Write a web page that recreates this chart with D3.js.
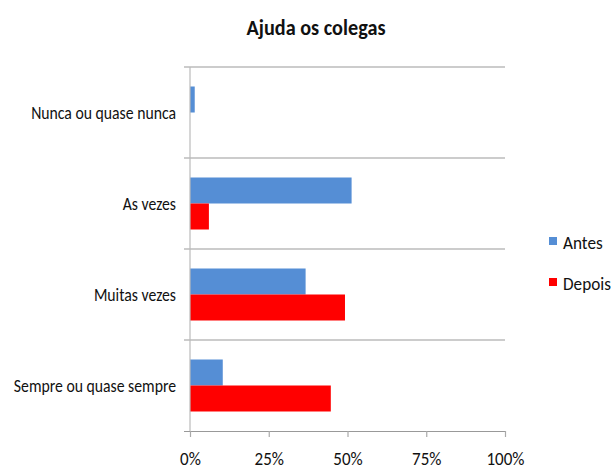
<!DOCTYPE html>
<html><head><meta charset="utf-8">
<script src="https://cdn.jsdelivr.net/npm/d3@7"></script>
<style>body{margin:0;background:#fff}svg{display:block}text{font-family:Carlito,'Liberation Sans Narrow','DejaVu Sans Condensed',sans-serif}</style>
</head><body><svg id="c" width="614" height="469"></svg>
<script>
const categories = ["Nunca ou quase nunca","As vezes","Muitas vezes","Sempre ou quase sempre"];
const seriesNames = ["Antes","Depois"];
const antes = [1.5, 51.3, 36.7, 10.4];
const depois = [0, 6.0, 49.2, 44.7];
const tickValues = [0,25,50,75,100];
const colors = ["#558ED5","#FF0000"];

(function(){
const svg = d3.select("#c");
const pL = 190, pR = 505, pT = 67, pB = 431;
const x = d3.scaleLinear().domain([0,100]).range([pL,pR]);
const y = d3.scaleBand().domain(categories).range([pT,pB]).padding(0);
const inner = d3.scaleBand().domain(seriesNames).range([0,y.bandwidth()]).paddingOuter(0.75).paddingInner(0);

svg.append("text").attr("transform","translate(316,35) scale(0.92,1)").attr("text-anchor","middle")
  .attr("font-size",22).attr("font-weight","bold").attr("fill","#111").text("Ajuda  os colegas");

const bounds = categories.map(c=>y(c));
svg.append("g").selectAll("line").data(bounds).join("line")
  .attr("x1",pL-6).attr("x2",pR).attr("y1",d=>d).attr("y2",d=>d)
  .attr("stroke","#999").attr("stroke-width",1.2);

const data = [antes, depois];
seriesNames.forEach((s,si)=>{
  svg.append("g").selectAll("rect").data(categories).join("rect")
    .attr("x",x(0)).attr("y",c=>y(c)+inner(s))
    .attr("width",(c,i)=>x(data[si][i])-x(0)).attr("height",inner.bandwidth())
    .attr("fill",colors[si]);
});

svg.append("line").attr("x1",pL).attr("x2",pL).attr("y1",pT).attr("y2",pB)
  .attr("stroke","#bbb").attr("stroke-width",1.2);

const xa = svg.append("g").attr("transform",`translate(0,${pB})`)
  .call(d3.axisBottom(x).tickValues(tickValues).tickFormat(d=>d+"%").tickSize(6).tickPadding(14));
xa.select(".domain").attr("stroke","#999").attr("stroke-width",1.2).attr("d",`M${pL-6},0.5H${pR}`);
xa.selectAll(".tick line").attr("stroke","#aaa").attr("stroke-width",1.2);
xa.selectAll(".tick text").remove();
xa.selectAll(".tick").append("text")
  .attr("transform","translate(0,33.5) scale(0.92,1)").attr("text-anchor","middle")
  .attr("font-size",18.5).attr("fill","#111").text(d=>d+"%");

svg.append("g").selectAll("text").data(categories).join("text")
  .attr("transform",c=>`translate(176,${y(c)+y.bandwidth()/2+6}) scale(0.9,1)`).attr("text-anchor","end")
  .attr("font-size",17.5).attr("fill","#111").text(d=>d);

const lg = svg.append("g");
seriesNames.forEach((s,i)=>{
  const ly = 243 + i*41;
  lg.append("rect").attr("x",549).attr("y",ly-6).attr("width",8).attr("height",8).attr("fill",colors[i]);
  lg.append("text").attr("transform",`translate(563,${ly+6}) scale(0.93,1)`).attr("font-size",18.5).attr("fill","#111").text(s);
});
})();
</script></body></html>
